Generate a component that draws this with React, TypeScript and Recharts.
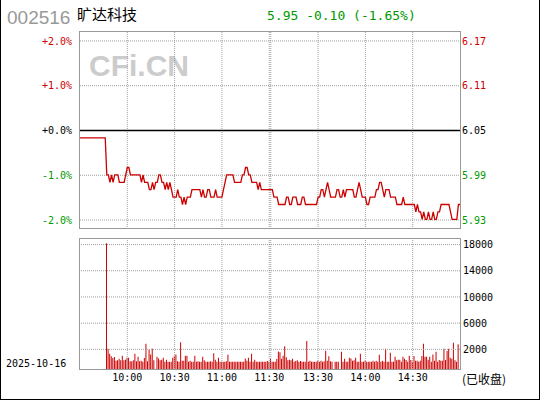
import { ComposedChart, Line, Bar, XAxis, YAxis, ReferenceLine } from 'recharts';

// 旷达科技 002516 minute chart, 2025-10-16
const PREV_CLOSE = 6.05;
const LAST_PRICE = '5.95';
const CHANGE = '-0.10';
const CHANGE_PCT = '(-1.65%)';
const TRADE_DATE = '2025-10-16';

// minute index: 0 = 9:30, 120 = 11:30, 121 = 13:00, 241 = 15:00
const TIME_TICKS = [30, 60, 90, 120, 151, 181, 211];
const TIME_LABELS = ['10:00', '10:30', '11:00', '11:30', '13:30', '14:00', '14:30'];
const GRID_MINUTES = [30, 60, 90, 120, 121, 151, 181, 211];

const PCT_TICKS = [-2, -1, 0, 1, 2];
const PCT_LABELS = ['-2.0%', '-1.0%', '+0.0%', '+1.0%', '+2.0%'];
const PRICE_LABELS = ['5.93', '5.99', '6.05', '6.11', '6.17'];
const TICK_COLORS = ['#009900', '#009900', '#000000', '#cc0000', '#cc0000'];

const VOL_TICKS = [2000, 6000, 10000, 14000, 18000];
const VOL_BASE = -1000;

const PRICES = [
  6.04, 6.04, 6.04, 6.04, 6.04, 6.04, 6.04, 6.04, 6.04, 6.04, 6.04, 6.04, 6.04, 6.04, 6.04, 6.04, 6.04,
  5.99, 5.99, 5.98, 5.99, 5.98, 5.99, 5.99, 5.99, 5.98, 5.98, 5.98, 5.98, 5.99, 6.00, 6.00, 5.99, 5.99, 5.99, 5.99, 5.99, 5.99,
  5.99, 5.98, 5.99, 5.98, 5.98, 5.98, 5.97, 5.97, 5.98, 5.97, 5.98, 5.98, 5.99, 5.99, 5.98, 5.98, 5.97, 5.98, 5.97, 5.98, 5.97, 5.96,
  5.96, 5.96, 5.97, 5.96, 5.96, 5.95, 5.96, 5.95, 5.96, 5.96, 5.96, 5.97, 5.97, 5.97, 5.97, 5.97, 5.97, 5.96, 5.97, 5.96, 5.96, 5.97,
  5.97, 5.96, 5.96, 5.96, 5.97, 5.96, 5.96, 5.96, 5.96, 5.97,
  5.98, 5.99, 5.99, 5.99, 5.99, 5.99, 5.98, 5.98, 5.98, 5.98, 5.98, 5.99, 5.99, 6.00, 6.00, 5.99, 5.99, 5.98, 5.98, 5.98, 5.98, 5.97,
  5.98, 5.97, 5.97, 5.97, 5.97, 5.97, 5.97,
  5.97, 5.97, 5.96, 5.96, 5.96, 5.95, 5.95, 5.95, 5.95, 5.95, 5.96, 5.96, 5.95, 5.95, 5.96, 5.96, 5.96, 5.95, 5.95, 5.95, 5.96, 5.96,
  5.95, 5.95, 5.95, 5.95, 5.95, 5.95, 5.95, 5.95,
  5.96, 5.96, 5.97, 5.97, 5.96, 5.97, 5.98, 5.97, 5.96, 5.96, 5.96, 5.96, 5.97, 5.97, 5.96, 5.96, 5.97, 5.96, 5.97, 5.97, 5.97, 5.97,
  5.97, 5.96, 5.96, 5.97, 5.98, 5.97, 5.96, 5.96,
  5.96, 5.95, 5.95, 5.96, 5.96, 5.96, 5.96, 5.97, 5.97, 5.98, 5.98, 5.97, 5.96, 5.97, 5.97, 5.97, 5.96, 5.96, 5.96, 5.96, 5.95, 5.95,
  5.95, 5.95, 5.96, 5.95, 5.95, 5.95, 5.95, 5.95,
  5.95, 5.95, 5.94, 5.95, 5.94, 5.94, 5.93, 5.94, 5.93, 5.93, 5.94, 5.93, 5.93, 5.94, 5.93, 5.93, 5.94, 5.94, 5.95, 5.95, 5.95, 5.95,
  5.95, 5.95, 5.94, 5.93, 5.93, 5.93, 5.93, 5.95, 5.95,
];

const VOLUMES = [
  null, null, null, null, null, null, null, null, null, null, null, null, null, null, null, null, null,
  18200, 2100, 1340, 930, 670, 830, 270, 320, 570, 320, 1030, 320, 420, 725, 725, 165, 165, 320, 1340, 165, 880, 165, 270, 100, 670,
  2860, 165, 1950, 1230, 2100, 320, null,
  880, 620, 320, 420, 725, 100, 420, 115, 115, 115, 725, 1030, 1230, 165, 100, 3070, 270, 270, 1030, 1030, 100, 270, 115, 115, 1030,
  115, 165, 100, 100, 880, 320, 115, 115, 100, 165, 100, 1390, 420, 100, 725, 100, 115, 100, 100, 165, 1180, 100, 115, 100, 100, 100,
  115, 100, 115, 100, 100, 620, 270, 725, 100, 1340, 100, 420, 100, 100, 115, 115, 115, 115, 115, 215, 100,
  520, 115, 100, 100, 520, 1690, 1540, 570, 1030, 2460, 775, 320, 420, 320, 570, 115, 215, 320, 100, 215, 100, 100, 100, 3270, 115,
  270, 115, 100, 100, 100, 270, 115, 270, 100, 165, 1790, 270, 930, 165, 115, null, 100, 100, 100, null,
  1640, 115, 570, 100, 100, 725, 620, 270, 320, 725, 100, 100, 1340, 100, 115, 270, 100, 100,
  115, 115, 270, 100, 270, 115, 1180, 115, 270, 100, 2100, 100, 115, 1490, 100, 100,
  880, 320, 420, 420, 100, 880, 570, 370, 100, 1030, 370, 115, 980, 270, 270, 100,
  270, 980, 2860, 880, 880, 420, 880, 100, 1230, 270, 1640, 100, 370, 270, 270,
  2100, 370, 1740, 2100, 725, 570, 3020, 320, 100, 2760, null,
];

const rows = PRICES.map((p, m) => ({
  m,
  pct: (p / PREV_CLOSE - 1) * 100,
  vol: VOLUMES[m],
}));

const MONO = '"DejaVu Sans Mono", monospace';
const CJK = '"Noto Sans CJK SC", sans-serif';
const RED = '#cc0000';
const GRID = '#a0a0a0';

const PctTick = (props: any) => {
  const { x, y, payload } = props;
  const i = PCT_TICKS.indexOf(payload.value);
  return (
    <text x={x} y={y} dy="0.355em" textAnchor="end" fill={TICK_COLORS[i]} fontFamily={MONO} fontSize={10}>
      {PCT_LABELS[i]}
    </text>
  );
};

const PriceTick = (props: any) => {
  const { x, y, payload } = props;
  const i = PCT_TICKS.indexOf(payload.value);
  return (
    <text x={x} y={y} dy="0.355em" textAnchor="start" fill={TICK_COLORS[i]} fontFamily={MONO} fontSize={10}>
      {PRICE_LABELS[i]}
    </text>
  );
};

const panelBorder = (top: number, height: number) => ({
  position: 'absolute' as const,
  left: 79,
  top,
  width: 382,
  height,
  border: '1px solid #999',
  boxSizing: 'border-box' as const,
  pointerEvents: 'none' as const,
});

export default function App() {
  return (
    <div style={{ position: 'fixed', left: 0, top: 0, width: 540, height: 400, background: '#fff', overflow: 'hidden' }}>
      {/* watermark sits under the chart */}
      <svg width={540} height={400} style={{ position: 'absolute', left: 0, top: 0 }}>
        <text x={89} y={76} fontFamily='"Liberation Sans", Arial, sans-serif' fontWeight="bold" fontSize={30} fill="#cccccc">
          CFi.CN
        </text>
      </svg>

      <div style={{ position: 'absolute', left: 0, top: 0 }}>
        <ComposedChart width={540} height={233} data={rows} margin={{ top: 32, right: 0, bottom: 4, left: 0 }}>
          <XAxis type="number" dataKey="m" domain={[0, 241]} hide />
          <YAxis
            yAxisId="left"
            type="number"
            domain={[-2.2, 2.2]}
            ticks={PCT_TICKS}
            width={80}
            axisLine={false}
            tickLine={false}
            tickSize={0}
            tickMargin={8}
            tick={PctTick}
            interval={0}
          />
          <YAxis
            yAxisId="right"
            orientation="right"
            type="number"
            domain={[-2.2, 2.2]}
            ticks={PCT_TICKS}
            width={80}
            axisLine={false}
            tickLine={false}
            tickSize={0}
            tickMargin={2}
            tick={PriceTick}
            interval={0}
          />
          {[-2, -1, 1, 2].map((v) => (
            <ReferenceLine key={`h${v}`} yAxisId="left" y={v} stroke={GRID} strokeDasharray="1 1" />
          ))}
          {GRID_MINUTES.map((m) => (
            <ReferenceLine key={`v${m}`} yAxisId="left" x={m} stroke={GRID} strokeDasharray="1 1" />
          ))}
          <ReferenceLine yAxisId="left" y={0} stroke="#000" strokeWidth={1.5} />
          <Line
            yAxisId="left"
            type="linear"
            dataKey="pct"
            stroke={RED}
            strokeWidth={1.3}
            dot={false}
            isAnimationActive={false}
          />
          <Line yAxisId="right" type="linear" dataKey="pct" stroke="none" dot={false} isAnimationActive={false} />
        </ComposedChart>
      </div>

      <div style={{ position: 'absolute', left: 0, top: 232 }}>
        <ComposedChart width={540} height={168} data={rows} margin={{ top: 6, right: 0, bottom: 1, left: 80 }}>
          <XAxis
            type="number"
            dataKey="m"
            domain={[0, 241]}
            ticks={TIME_TICKS}
            tickFormatter={(v: number) => TIME_LABELS[TIME_TICKS.indexOf(v)]}
            height={30}
            axisLine={false}
            tickLine={false}
            tickSize={0}
            tickMargin={5}
            interval={0}
            tick={{ fontFamily: MONO, fontSize: 10, fill: '#000' }}
          />
          <YAxis
            orientation="right"
            type="number"
            domain={[VOL_BASE, 19000]}
            allowDataOverflow
            ticks={VOL_TICKS}
            width={80}
            axisLine={false}
            tickLine={false}
            tickSize={0}
            tickMargin={3}
            interval={0}
            tick={{ fontFamily: MONO, fontSize: 10, fill: '#000', textAnchor: 'start' }}
          />
          {VOL_TICKS.map((v) => (
            <ReferenceLine key={`vh${v}`} y={v} stroke={GRID} strokeDasharray="1 1" />
          ))}
          {GRID_MINUTES.map((m) => (
            <ReferenceLine key={`vv${m}`} x={m} stroke={GRID} strokeDasharray="1 1" />
          ))}
          <Bar
            dataKey={(d: any) => (d.vol == null ? null : [VOL_BASE, d.vol])}
            fill={RED}
            barSize={1}
            isAnimationActive={false}
          />
        </ComposedChart>
      </div>

      <div style={panelBorder(31, 198)} />
      <div style={panelBorder(238, 132)} />

      <svg width={540} height={400} style={{ position: 'absolute', left: 0, top: 0, pointerEvents: 'none' }}>
        <text x={7} y={24} fontFamily='"Liberation Sans", Arial, sans-serif' fontSize={19} fill="#999">
          002516
        </text>
        <text x={77} y={20} fontFamily={CJK} fontSize={15} fill="#000">
          旷达科技
        </text>
        <text x={267} y={20} fontFamily={MONO} fontSize={13} fill="#009900" style={{ whiteSpace: 'pre' }}>
          {`${LAST_PRICE} ${CHANGE} ${CHANGE_PCT}`}
        </text>
        <text x={6} y={367} fontFamily={MONO} fontSize={10} fill="#000">
          {TRADE_DATE}
        </text>
        <text x={462} y={384} fontFamily={CJK} fontSize={12} fill="#000">
          (已收盘)
        </text>
      </svg>

      <div
        style={{
          position: 'absolute',
          left: 0,
          top: 0,
          width: 540,
          height: 400,
          borderLeft: '1px solid #000',
          borderRight: '1px solid #000',
          borderBottom: '1px solid #000',
          boxSizing: 'border-box',
          pointerEvents: 'none',
        }}
      />
    </div>
  );
}
